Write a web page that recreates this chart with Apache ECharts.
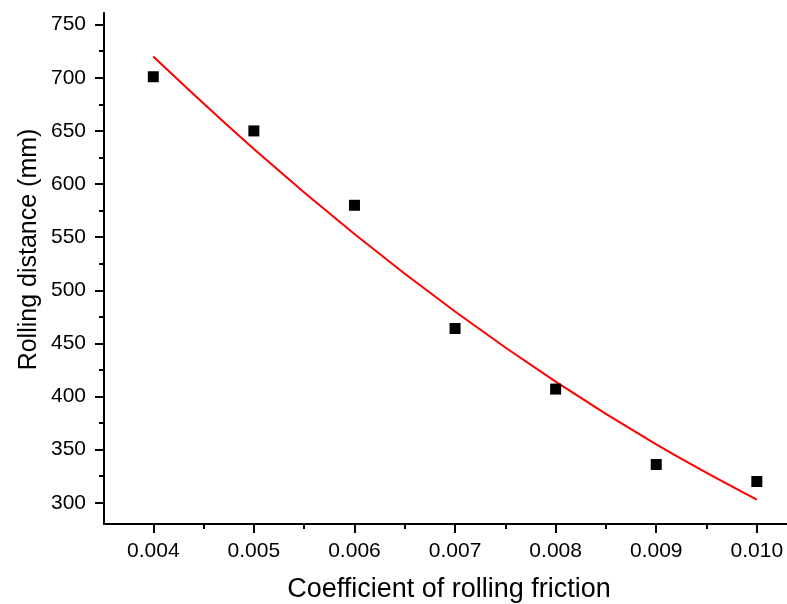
<!DOCTYPE html>
<html>
<head>
<meta charset="utf-8">
<title>Rolling distance vs. coefficient of rolling friction</title>
<script src="https://cdn.jsdelivr.net/npm/echarts@6/dist/echarts.min.js"></script>
<style>
  html, body { margin: 0; padding: 0; background: #ffffff; }
  #chart { width: 787px; height: 604px; }
</style>
</head>
<body>
<div id="chart"></div>
<script>
// Measured rolling distance for each coefficient of rolling friction
const frictionCoeff = [0.004, 0.005, 0.006, 0.007, 0.008, 0.009, 0.010];
const rollingDistance = [701, 650, 580, 464, 407, 336, 320];

// Fitted trend curve, sampled at the same coefficients
const fitCoeff = [0.004, 0.005, 0.006, 0.007, 0.008, 0.009, 0.010];
const fitDistance = [720, 633, 553, 480, 414, 355, 303];

// Tick labels
const xTicks = [0.004, 0.005, 0.006, 0.007, 0.008, 0.009, 0.010];
const yTicks = [300, 350, 400, 450, 500, 550, 600, 650, 700, 750];

const FONT = '"Liberation Sans", Arial, sans-serif';

const chart = echarts.init(document.getElementById('chart'), null, { renderer: 'canvas' });

const axisCommon = {
  axisLine: { show: true, onZero: false, lineStyle: { color: '#000', width: 2 } },
  axisTick: { show: true, inside: false, length: 9, lineStyle: { color: '#000', width: 2 } },
  minorTick: { show: true, splitNumber: 2, length: 5, lineStyle: { color: '#000', width: 2 } },
  splitLine: { show: false },
  minorSplitLine: { show: false },
  nameLocation: 'middle',
  nameMoveOverlap: false
};

chart.setOption({
  animation: false,
  backgroundColor: '#ffffff',
  grid: { left: 104, right: 0, top: 13, bottom: 80, containLabel: false, outerBoundsMode: 'none' },
  xAxis: Object.assign({}, axisCommon, {
    type: 'value',
    min: 0.00351,
    max: 0.0103,
    minInterval: 0.001,
    maxInterval: 0.001,
    name: 'Coefficient of rolling friction',
    nameGap: 52,
    nameTextStyle: { fontFamily: FONT, fontSize: 27, color: '#000', padding: [0, 0, 0, 7] },
    axisTick: Object.assign({}, axisCommon.axisTick, { customValues: xTicks }),
    axisLabel: {
      customValues: xTicks,
      margin: 17,
      fontFamily: FONT,
      fontSize: 21,
      color: '#000',
      formatter: (v) => v.toFixed(3)
    }
  }),
  yAxis: Object.assign({}, axisCommon, {
    type: 'value',
    min: 280,
    max: 761,
    minInterval: 50,
    maxInterval: 50,
    name: 'Rolling distance (mm)',
    nameGap: 62,
    nameTextStyle: { fontFamily: FONT, fontSize: 25, color: '#000', padding: [0, 0, 0, 38] },
    axisTick: Object.assign({}, axisCommon.axisTick, { customValues: yTicks }),
    axisLabel: {
      customValues: yTicks,
      margin: 18,
      fontFamily: FONT,
      fontSize: 21,
      color: '#000'
    }
  }),
  series: [
    {
      name: 'Fit',
      type: 'line',
      smooth: 0.4,
      showSymbol: false,
      symbol: 'none',
      lineStyle: { color: '#ff0000', width: 2 },
      data: fitCoeff.map((x, i) => [x, fitDistance[i]]),
      z: 2
    },
    {
      name: 'Rolling distance',
      type: 'scatter',
      symbol: 'rect',
      symbolSize: 11,
      itemStyle: { color: '#000000', opacity: 1 },
      data: frictionCoeff.map((x, i) => [x, rollingDistance[i]]),
      z: 3
    }
  ]
});
</script>
</body>
</html>
